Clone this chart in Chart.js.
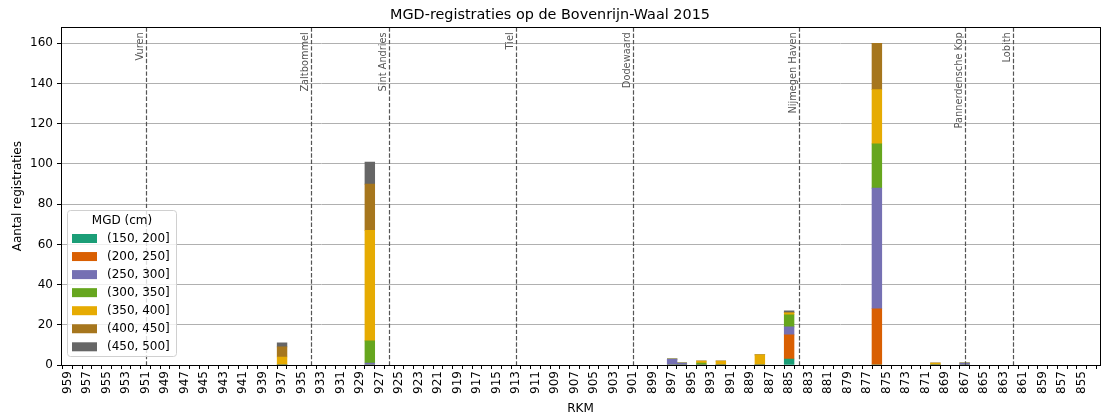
<!DOCTYPE html>
<html>
<head>
<meta charset="utf-8">
<script src="https://cdn.jsdelivr.net/npm/chart.js@4/dist/chart.umd.min.js"></script>
<style>
  body { margin: 0; background: #fff; }
  #wrap { width: 1106px; height: 416px; }
</style>
</head>
<body>
<div id="wrap"><canvas id="mgdChart"></canvas></div>
<script>
// RKM positions that have registrations
const rkm = [937, 928, 897, 896, 894, 892, 888, 885, 876, 870, 867];
// counts per MGD class (cm), same order as rkm
const mgd150_200 = [0, 0, 0, 0, 0, 0, 0, 3, 0, 0, 0];
const mgd200_250 = [0, 0, 0, 0, 0, 0, 0, 12, 28, 0, 0];
const mgd250_300 = [0, 1, 3, 1, 0, 0, 0, 4, 60, 0, 1];
const mgd300_350 = [0, 11, 0, 0, 1, 0, 0, 6, 22, 0, 0];
const mgd350_400 = [4, 55, 0, 0, 1, 2, 5, 1, 27, 1, 0];
const mgd400_450 = [5, 23, 0, 0, 0, 0, 0, 0, 23, 0, 0];
const mgd450_500 = [2, 11, 0, 0, 0, 0, 0, 1, 0, 0, 0];

const classLabels = ['(150, 200]', '(200, 250]', '(250, 300]', '(300, 350]', '(350, 400]', '(400, 450]', '(450, 500]'];
const classColors = ['#1b9e77', '#d95f02', '#7570b3', '#66a61e', '#e6ab02', '#a6761d', '#666666'];
const classSeries = [mgd150_200, mgd200_250, mgd250_300, mgd300_350, mgd350_400, mgd400_450, mgd450_500];

// river km range and y ticks
const rkmStart = 959;
const rkmEnd = 854;
const yTicks = [0, 20, 40, 60, 80, 100, 120, 140, 160];

// locations marked with dashed lines
const places = ['Vuren', 'Zaltbommel', 'Sint Andries', 'Tiel', 'Dodewaard', 'Nijmegen Haven', 'Pannerdensche Kop', 'Lobith'];
const placeRkm = [951, 934, 926, 913, 901, 884, 867, 862];

const FONT = 'DejaVu Sans';
Chart.defaults.font.family = FONT;

const datasets = classSeries.map((vals, i) => ({
    label: classLabels[i],
    data: rkm.map((r, j) => ({ x: r, y: vals[j] })),
    backgroundColor: classColors[i],
    borderWidth: 0,
    barPercentage: 1,
    categoryPercentage: 1
}));

// dashed location lines + labels
const placeLines = {
    id: 'placeLines',
    afterDatasetsDraw(chart) {
        const { ctx, chartArea, scales } = chart;
        ctx.save();
        placeRkm.forEach((r, i) => {
            const x = Math.round(scales.x.getPixelForValue(r)) + 0.5;
            ctx.strokeStyle = '#555';
            ctx.lineWidth = 1.2;
            ctx.setLineDash([4.4, 1.9]);
            ctx.beginPath();
            ctx.moveTo(x, chartArea.top);
            ctx.lineTo(x, chartArea.bottom);
            ctx.stroke();

            ctx.save();
            ctx.translate(x - 1, chartArea.top + 5);
            ctx.rotate(-Math.PI / 2);
            ctx.fillStyle = '#555';
            ctx.font = '9.8px "' + FONT + '"';
            ctx.textAlign = 'right';
            ctx.textBaseline = 'bottom';
            ctx.fillText(places[i], 0, 0);
            ctx.restore();
        });
        ctx.restore();
    }
};

// frame + legend box inside the plot
const frameLegend = {
    id: 'frameLegend',
    afterDraw(chart) {
        const { ctx, chartArea } = chart;
        ctx.save();
        ctx.setLineDash([]);
        ctx.strokeStyle = '#000';
        ctx.lineWidth = 1;
        ctx.strokeRect(Math.round(chartArea.left) + 0.5, Math.round(chartArea.top) + 0.5,
            Math.round(chartArea.right - chartArea.left), Math.round(chartArea.bottom - chartArea.top));

        // legend
        const lx = 67.5, ly = 210.5, lw = 109, lh = 146;
        ctx.beginPath();
        ctx.roundRect(lx, ly, lw, lh, 3);
        ctx.fillStyle = 'rgba(255,255,255,0.8)';
        ctx.fill();
        ctx.strokeStyle = '#d0d0d0';
        ctx.stroke();

        ctx.fillStyle = '#000';
        ctx.font = '12px "' + FONT + '"';
        ctx.textAlign = 'center';
        ctx.textBaseline = 'middle';
        ctx.fillText('MGD (cm)', lx + lw / 2, 221);
        ctx.textAlign = 'left';
        classLabels.forEach((lab, i) => {
            const cy = 238.5 + i * 18.05;
            ctx.fillStyle = classColors[i];
            ctx.fillRect(72, cy - 4.5, 25, 9);
            ctx.fillStyle = '#000';
            ctx.fillText(lab, 107, cy);
        });
        ctx.restore();
    }
};

new Chart(document.getElementById('mgdChart').getContext('2d'), {
    type: 'bar',
    data: { datasets },
    options: {
        responsive: true,
        maintainAspectRatio: false,
        animation: false,
        layout: { padding: { left: 0, right: 6, top: 0, bottom: 0 } },
        plugins: {
            legend: { display: false },
            tooltip: { enabled: false },
            title: {
                display: true,
                text: 'MGD-registraties op de Bovenrijn-Waal 2015',
                color: '#000',
                font: { size: 14.4, weight: 'normal' },
                padding: { top: 7, bottom: 3 }
            }
        },
        scales: {
            x: {
                type: 'linear',
                reverse: true,
                min: 853.12,
                max: 959.67,
                stacked: true,
                offset: false,
                afterBuildTicks: s => {
                    const t = [];
                    for (let v = rkmEnd; v <= rkmStart; v++) t.push({ value: v });
                    s.ticks = t;
                },
                ticks: {
                    stepSize: 1,
                    includeBounds: false,
                    autoSkip: false,
                    minRotation: 90,
                    maxRotation: 90,
                    padding: 2,
                    color: '#000',
                    font: { size: 12 },
                    callback: v => (v % 2 !== 0 ? String(v) : '')
                },
                grid: { drawOnChartArea: false, drawTicks: true, tickLength: 4, color: '#000', lineWidth: 1 },
                border: { display: true, color: '#000' },
                title: { display: true, text: 'RKM', color: '#000', font: { size: 12 }, padding: { top: 1, bottom: 0 } },
                afterFit: s => { s.height = 51; }
            },
            y: {
                stacked: true,
                min: 0,
                max: 168,
                afterBuildTicks: s => { s.ticks = yTicks.map(v => ({ value: v })); },
                ticks: { color: '#000', font: { size: 12 }, padding: 4 },
                grid: { color: '#b0b0b0', lineWidth: 1, tickColor: '#000', tickLength: 4 },
                border: { display: true, color: '#000' },
                title: { display: true, text: 'Aantal registraties', color: '#000', font: { size: 12 }, padding: { top: 11, bottom: 0 } },
                afterFit: s => { s.width = 61; }
            }
        }
    },
    plugins: [placeLines, frameLegend]
});
</script>
</body>
</html>
